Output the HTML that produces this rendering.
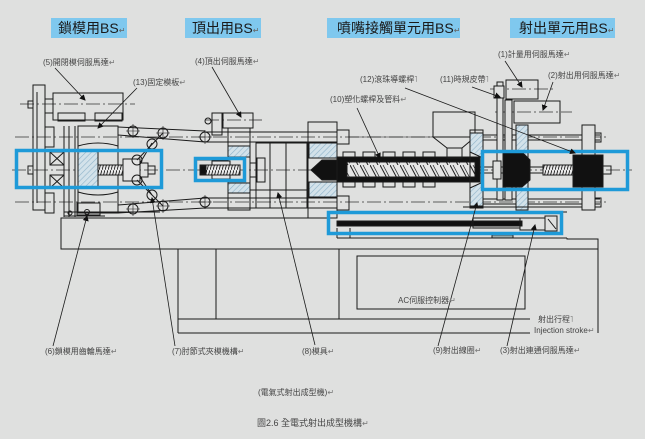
<!DOCTYPE html>
<html><head><meta charset="utf-8">
<style>
html,body{margin:0;padding:0;background:#dfe0df;}
body{width:645px;height:439px;overflow:hidden;}
svg{display:block;}
text{font-family:"Liberation Sans","Noto Sans CJK TC","Noto Sans CJK SC",sans-serif;}
</style></head>
<body>
<svg width="645" height="439" viewBox="0 0 645 439" xmlns="http://www.w3.org/2000/svg">
<defs>
  <pattern id="hatch" width="4" height="4" patternUnits="userSpaceOnUse" patternTransform="rotate(45)">
    <rect width="4" height="4" fill="#d3e2ea"/>
    <line x1="0" y1="0" x2="0" y2="4" stroke="#8eb3c9" stroke-width="1.2"/>
  </pattern>
  <pattern id="thread" width="3" height="10" patternUnits="userSpaceOnUse">
    <rect width="3" height="10" fill="#e8e8e8"/>
    <line x1="0" y1="10" x2="3" y2="0" stroke="#222" stroke-width="0.9"/>
  </pattern>
  <pattern id="flight" width="10" height="15" patternUnits="userSpaceOnUse">
    <rect width="10" height="15" fill="#e4e4e4"/>
    <line x1="0" y1="0" x2="8" y2="15" stroke="#222" stroke-width="1"/>
    <line x1="3" y1="0" x2="11" y2="15" stroke="#222" stroke-width="0.7"/>
  </pattern>
  <marker id="ar" markerWidth="6" markerHeight="6" refX="5" refY="3" orient="auto" markerUnits="userSpaceOnUse">
    <path d="M0,0 L6,3 L0,6 z" fill="#111"/>
  </marker>
</defs>

<rect width="645" height="439" fill="#dfe0df"/>

<!-- Title boxes -->
<rect x="51" y="18" width="76" height="20" fill="#7fc8ee"/>
<text x="58" y="33" font-size="14" fill="#1a1a1a">鎖模用BS<tspan font-size="8" fill="#666">↵</tspan></text>
<rect x="185" y="18" width="76" height="20" fill="#7fc8ee"/>
<text x="192" y="33" font-size="14" fill="#1a1a1a">頂出用BS<tspan font-size="8" fill="#666">↵</tspan></text>
<rect x="327" y="18" width="133" height="20" fill="#7fc8ee"/>
<text x="337" y="33" font-size="14" fill="#1a1a1a">噴嘴接觸單元用BS<tspan font-size="8" fill="#666">↵</tspan></text>
<rect x="510" y="18" width="105" height="20" fill="#7fc8ee"/>
<text x="519" y="33" font-size="14" fill="#1a1a1a">射出單元用BS<tspan font-size="8" fill="#666">↵</tspan></text>

<!-- centre lines -->
<g stroke="#333" stroke-width="0.8" stroke-dasharray="14 3 2 3" fill="none">
  <line x1="12" y1="170" x2="632" y2="170"/>
  <line x1="15" y1="137" x2="607" y2="137"/>
  <line x1="15" y1="202" x2="607" y2="202"/>
  <line x1="20" y1="104" x2="135" y2="104"/>
  <line x1="205" y1="120" x2="262" y2="120"/>
  <line x1="490" y1="89" x2="556" y2="89"/>
  <line x1="495" y1="112" x2="572" y2="112"/>
</g>

<g fill="none" stroke="#1a1a1a" stroke-width="1">
  <!-- ===== Clamp unit (left) ===== -->
  <rect x="33" y="85" width="12" height="125"/>
  <line x1="37" y1="92" x2="37" y2="203"/>
  <rect x="28" y="101" width="5" height="7"/>
  <rect x="28" y="166" width="5" height="8"/>
  <rect x="45" y="99" width="8" height="14"/>
  <rect x="53" y="93" width="70" height="27"/>
  <rect x="58" y="113" width="27" height="8"/>
  <rect x="95" y="113" width="27" height="8"/>
  <rect x="45" y="127" width="9" height="20"/>
  <rect x="45" y="193" width="9" height="20"/>
  <line x1="64" y1="126" x2="64" y2="217"/>
  <line x1="69" y1="126" x2="69" y2="217"/>
  <line x1="75" y1="126" x2="75" y2="217"/>
  <rect x="78" y="126" width="40" height="87"/>
  <path d="M78,146 q20,-6 40,0 M78,192 q20,6 40,0"/>
  <rect x="78" y="150" width="20" height="38" fill="url(#hatch)"/>
  <rect x="50" y="152" width="14" height="13"/>
  <path d="M50,152 L64,165 M64,152 L50,165"/>
  <rect x="50" y="175" width="14" height="13"/>
  <path d="M50,175 L64,188 M64,175 L50,188"/>
  <rect x="98" y="165" width="25" height="10" fill="url(#thread)"/>
  <rect x="123" y="159" width="17" height="22" fill="#e4e4e4"/>
  <rect x="140" y="163" width="8" height="14"/>
  <rect x="148" y="166" width="7" height="8"/>
  <rect x="77" y="203" width="23" height="12"/>
  <circle cx="87" cy="212" r="2.5"/>
  <circle cx="70" cy="213" r="2"/>
  <line x1="64" y1="212" x2="160" y2="212"/>
  <line x1="64" y1="216" x2="105" y2="216"/>
  <!-- toggle links -->
  <line x1="118" y1="127" x2="205" y2="131"/>
  <line x1="118" y1="135" x2="205" y2="142"/>
  <line x1="118" y1="213" x2="205" y2="208"/>
  <line x1="118" y1="205" x2="205" y2="198"/>
  <line x1="140" y1="163" x2="152" y2="143"/>
  <line x1="140" y1="177" x2="152" y2="195"/>
  <line x1="137" y1="160" x2="163" y2="133"/>
  <line x1="137" y1="180" x2="163" y2="206"/>
  <!-- tie bars -->
  <line x1="205" y1="132" x2="337" y2="132"/>
  <line x1="205" y1="142" x2="337" y2="142"/>
  <line x1="205" y1="198" x2="337" y2="198"/>
  <line x1="205" y1="208" x2="337" y2="208"/>
  <g>
    <circle cx="133" cy="131" r="5"/><circle cx="163" cy="133" r="5"/>
    <circle cx="152" cy="144" r="5"/><circle cx="137" cy="160" r="5"/>
    <circle cx="137" cy="180" r="5"/><circle cx="152" cy="195" r="5"/>
    <circle cx="163" cy="206" r="5"/><circle cx="133" cy="209" r="5"/>
    <circle cx="205" cy="137" r="5"/><circle cx="205" cy="202" r="5"/>
  </g>
  <path d="M126,131h14M133,124v14M156,133h14M163,126v14M198,137h14M205,130v14M198,202h14M205,195v14M126,209h14M133,202v14M156,206h14M163,199v14" stroke-width="0.6"/>

  <!-- ===== Ejector / moving platen ===== -->
  <rect x="212" y="113" width="10" height="22"/>
  <circle cx="208" cy="121" r="3"/>
  <rect x="223" y="113" width="30" height="15"/>
  <rect x="228" y="128" width="22" height="82"/>
  <rect x="228" y="146" width="22" height="11" fill="url(#hatch)"/>
  <rect x="228" y="183" width="22" height="10" fill="url(#hatch)"/>
  <line x1="196" y1="160" x2="228" y2="160"/>
  <line x1="196" y1="180" x2="228" y2="180"/>
  <rect x="212" y="161" width="18" height="18" fill="#e4e4e4"/>
  <rect x="200" y="165" width="40" height="10" fill="url(#thread)"/>
  <rect x="200" y="166" width="6" height="8" fill="#111"/>

  <!-- mold -->
  <rect x="256" y="143" width="51" height="65"/>
  <line x1="270" y1="143" x2="270" y2="208"/>
  <line x1="286" y1="143" x2="286" y2="208"/>
  <line x1="250" y1="150" x2="250" y2="192"/>
  <line x1="250" y1="190" x2="307" y2="190"/>
  <rect x="257" y="158" width="8" height="24"/>
  <rect x="250" y="163" width="7" height="14"/>

  <!-- fixed platen -->
  <rect x="308" y="122" width="29" height="96"/>
  <rect x="309" y="143" width="28" height="15" fill="url(#hatch)"/>
  <rect x="309" y="182" width="28" height="15" fill="url(#hatch)"/>
  <rect x="337" y="130" width="12" height="14"/>
  <rect x="337" y="196" width="12" height="14"/>
  <line x1="349" y1="137" x2="480" y2="137" stroke-width="0.6"/>

  <!-- barrel -->
  <rect x="337" y="157" width="143" height="25" fill="#111"/>
  <rect x="347" y="162" width="128" height="15" fill="url(#flight)"/>
  <g>
    <rect x="343" y="152" width="12" height="5"/><rect x="363" y="152" width="12" height="5"/>
    <rect x="383" y="152" width="12" height="5"/><rect x="403" y="152" width="12" height="5"/>
    <rect x="423" y="152" width="12" height="5"/>
    <rect x="343" y="182" width="12" height="5"/><rect x="363" y="182" width="12" height="5"/>
    <rect x="383" y="182" width="12" height="5"/><rect x="403" y="182" width="12" height="5"/>
    <rect x="423" y="182" width="12" height="5"/>
  </g>
  <polygon points="311,170 322,160 337,160 337,180 322,180" fill="#111"/>

  <!-- hopper -->
  <rect x="433" y="112" width="42" height="25"/>
  <polygon points="433,137 475,137 462,148 447,148"/>
  <rect x="447" y="148" width="15" height="10"/>

  <!-- injection unit -->
  <rect x="470" y="130" width="13" height="78"/>
  <polygon points="470,133 483,133 483,158 470,152" fill="url(#hatch)"/>
  <polygon points="470,188 483,182 483,206 470,206" fill="url(#hatch)"/>
  <line x1="483" y1="135" x2="600" y2="135"/>
  <line x1="483" y1="140" x2="600" y2="140"/>
  <line x1="483" y1="199" x2="600" y2="199"/>
  <line x1="483" y1="204" x2="600" y2="204"/>
  <rect x="497" y="82" width="6" height="118" fill="#dfe0df"/>
  <rect x="494" y="86" width="10" height="12" fill="#dfe0df"/>
  <rect x="505" y="100" width="7" height="100" fill="#dfe0df"/>
  <rect x="516" y="125" width="12" height="85" fill="url(#hatch)"/>
  <rect x="582" y="125" width="13" height="85" fill="#dfe0df"/>
  <line x1="480" y1="167" x2="545" y2="167"/>
  <line x1="480" y1="173" x2="545" y2="173"/>
  <polygon points="503,152 522,152 530,160 530,180 522,187 503,187" fill="#111"/>
  <rect x="493" y="161" width="8" height="18" fill="#dfe0df"/>
  <rect x="543" y="165" width="30" height="10" fill="url(#thread)"/>
  <rect x="573" y="155" width="30" height="32" fill="#111"/>
  <rect x="595" y="133" width="6" height="9"/>
  <rect x="595" y="198" width="6" height="9"/>
  <rect x="603" y="166" width="8" height="8"/>
  <!-- motors -->
  <rect x="506" y="80" width="32" height="19"/>
  <rect x="514" y="101" width="46" height="22"/>

  <!-- sled -->
  <line x1="463" y1="207" x2="582" y2="207"/>
  <line x1="483" y1="212" x2="567" y2="212"/>
  <rect x="337" y="221" width="185" height="5" fill="#111"/>
  <rect x="473" y="218" width="47" height="10"/>
  <rect x="520" y="218" width="25" height="12"/>
  <rect x="545" y="216" width="12" height="15"/>
  <line x1="548" y1="219" x2="556" y2="229"/>
  <rect x="492" y="235" width="21" height="3" fill="#9aa"/>
  <line x1="337" y1="228" x2="337" y2="238"/>
  <line x1="350" y1="228" x2="350" y2="238"/>
  <line x1="337" y1="238" x2="567" y2="238"/>

  <!-- base -->
  <polyline points="327,218 61,218 61,249 598,249"/>
  <polyline points="567,238 567,239 598,239 598,333"/>
  <line x1="178" y1="249" x2="178" y2="333"/>
  <line x1="216" y1="249" x2="216" y2="319"/>
  <line x1="339" y1="249" x2="339" y2="319"/>
  <line x1="178" y1="319" x2="530" y2="319"/>
  <line x1="178" y1="333" x2="530" y2="333"/>
  <rect x="357" y="256" width="168" height="53"/>
</g>

<!-- Blue highlight boxes -->
<g fill="none" stroke="#1e9ad8" stroke-width="3.5">
  <rect x="16.5" y="150.5" width="145" height="37"/>
  <rect x="195.5" y="158.5" width="49" height="22"/>
  <rect x="482.5" y="151.5" width="145" height="38"/>
  <rect x="328.5" y="212.5" width="233" height="21"/>
</g>

<!-- leader lines -->
<g stroke="#1a1a1a" stroke-width="0.8" fill="none" marker-end="url(#ar)">
  <line x1="55" y1="68" x2="85" y2="100"/>
  <line x1="137" y1="88" x2="98" y2="128"/>
  <line x1="212" y1="67" x2="241" y2="117"/>
  <line x1="505" y1="61" x2="522" y2="87"/>
  <line x1="553" y1="82" x2="543" y2="110"/>
  <line x1="405" y1="88" x2="575" y2="153"/>
  <line x1="472" y1="87" x2="500" y2="97"/>
  <line x1="357" y1="108" x2="380" y2="158"/>
  <line x1="53" y1="346" x2="87" y2="216"/>
  <line x1="175" y1="346" x2="152" y2="198"/>
  <line x1="315" y1="345" x2="278" y2="193"/>
  <line x1="438" y1="346" x2="477" y2="203"/>
  <line x1="507" y1="346" x2="535" y2="225"/>
</g>

<!-- labels -->
<g font-size="8" fill="#444">
  <text x="43" y="65">(5)開閉模伺服馬達<tspan fill="#777">↵</tspan></text>
  <text x="133" y="85">(13)固定模板<tspan fill="#777">↵</tspan></text>
  <text x="195" y="64">(4)頂出伺服馬達<tspan fill="#777">↵</tspan></text>
  <text x="498" y="57">(1)計量用伺服馬達<tspan fill="#777">↵</tspan></text>
  <text x="548" y="78">(2)射出用伺服馬達<tspan fill="#777">↵</tspan></text>
  <text x="360" y="82">(12)滾珠導螺桿<tspan fill="#777">˥</tspan></text>
  <text x="440" y="82">(11)時規皮帶<tspan fill="#777">˥</tspan></text>
  <text x="330" y="102">(10)塑化螺桿及管料<tspan fill="#777">↵</tspan></text>
  <text x="45" y="354">(6)鎖模用齒輪馬達<tspan fill="#777">↵</tspan></text>
  <text x="172" y="354">(7)肘節式夾模機構<tspan fill="#777">↵</tspan></text>
  <text x="302" y="354">(8)模具<tspan fill="#777">↵</tspan></text>
  <text x="433" y="353">(9)射出線圈<tspan fill="#777">↵</tspan></text>
  <text x="500" y="353">(3)射出連通伺服馬達<tspan fill="#777">↵</tspan></text>
  <text x="398" y="303">AC伺服控制器<tspan fill="#777">↵</tspan></text>
  <text x="538" y="322">射出行程<tspan fill="#777">˥</tspan></text>
  <text x="534" y="333" font-family="Liberation Serif, serif">Injection stroke<tspan fill="#777">↵</tspan></text>
  <text x="258" y="395">(電氣式射出成型機)<tspan fill="#777">↵</tspan></text>
  <text x="257" y="426" font-size="9">圖2.6  全電式射出成型機構<tspan fill="#777" font-size="8">↵</tspan></text>
</g>
</svg>
</body></html>
